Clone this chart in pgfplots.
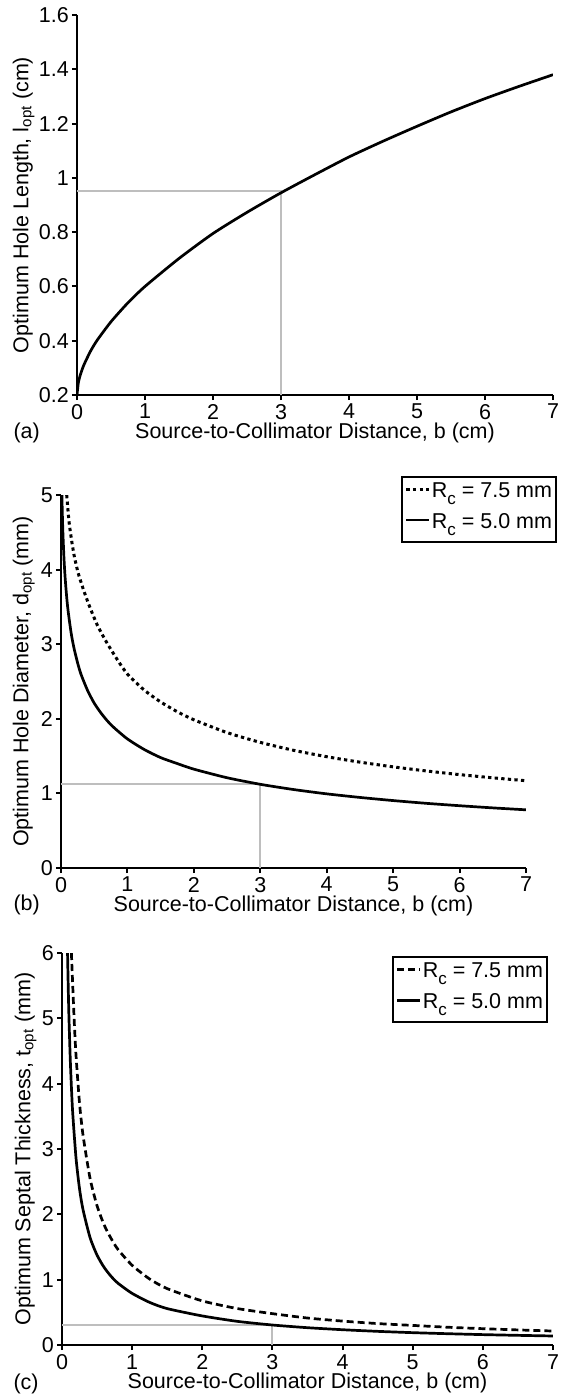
\documentclass[border=0pt]{standalone}
\usepackage{fontspec}
\setmainfont{Liberation Sans}
\usepackage{pgfplots}
\pgfplotsset{compat=1.18}
\definecolor{refgray}{RGB}{190,190,190}
\newcommand{\bigfont}{\fontsize{21.5}{25}\selectfont}
\newcommand{\Rc}{R\raisebox{-7pt}{\fontsize{17}{17}\selectfont c}}
\pgfplotsset{
  myaxis/.style={
    scale only axis,
    axis x line*=bottom, axis y line*=left,
    axis line style={line width=2.2pt,-},
    every tick/.style={line width=2pt,black},
    major tick length=5pt,
    tick align=outside,
    xmin=0, xmax=7, xtick={0,1,2,3,4,5,6,7},
    /pgf/number format/assume math mode=true,
    tick label style={font=\bigfont},
    label style={font=\bigfont},
    xticklabel style={inner sep=1pt, anchor=north, yshift=-3pt},
    yticklabel style={inner sep=1pt, anchor=east, xshift=-2pt},
    xlabel={Source-to-Collimator Distance, b (cm)},
    x label style={at={(axis description cs:0.5,0)}, anchor=center, yshift=-38pt},
    legend style={font=\bigfont, draw=black, line width=2.2pt, inner xsep=3pt, inner ysep=3pt,
      row sep=3pt, cells={anchor=west},
      nodes={inner xsep=1pt, inner ysep=1pt, text height=16pt, text depth=10pt}},
    legend image code/.code={\draw[#1] (0pt,5pt) -- (23pt,5pt);},
  },
  curve/.style={black, line width=2.7pt, smooth, tension=0.4},
  guide/.style={refgray, line width=2pt, forget plot},
}
\begin{document}
\begin{tikzpicture}
\path[use as bounding box] (0pt,0pt) rectangle (560pt,-1395pt);
% ---------- (a)
\begin{axis}[myaxis, at={(77pt,-15pt)}, anchor=north west, width=476pt, height=380pt,
  ymin=0.2, ymax=1.6, ytick={0.2,0.4,0.6,0.8,1,1.2,1.4,1.6},
  yticklabels={0.2,0.4,0.6,0.8,1,1.2,1.4,1.6},
  ylabel={Optimum Hole Length, l\textsubscript{opt} (cm)},
  y label style={at={(axis description cs:-0.112,0.5)}, anchor=center}]
\addplot[guide] coordinates {(0,0.95) (3,0.95) (3,0.2)};
\addplot[curve] coordinates {
(0,0.2) (0.02,0.245) (0.05,0.275) (0.1,0.31) (0.2,0.362) (0.3,0.403) (0.5,0.47)
(0.75,0.54) (1,0.6) (1.5,0.703) (2,0.795) (2.5,0.873) (3,0.945) (3.5,1.012)
(4,1.077) (4.5,1.135) (5,1.19) (5.5,1.243) (6,1.292) (6.5,1.337) (7,1.38)};
\end{axis}
\node[anchor=west, font=\bigfont] at (10pt,-433pt) {(a)};
% ---------- (b)
\begin{axis}[myaxis, at={(61pt,-495pt)}, anchor=north west, width=465pt, height=373pt,
  ymin=0, ymax=5, ytick={0,1,2,3,4,5},
  ylabel={Optimum Hole Diameter, d\textsubscript{opt} (mm)},
  y label style={at={(axis description cs:-0.080,0.5)}, anchor=center},
  legend style={at={(1.067,1.051)}, anchor=north east}]
\addplot[guide] coordinates {(0,1.13) (3,1.13) (3,0)};
\addplot[curve, line width=3pt, dash pattern=on 3.3pt off 3.3pt] coordinates {
(0.086,5.0) (0.12,4.65) (0.16,4.39) (0.2,4.18) (0.26,3.95) (0.35,3.7) (0.437,3.49)
(0.55,3.25) (0.69,3.02) (0.85,2.79) (1,2.6) (1.25,2.387) (1.5,2.226) (1.75,2.095)
(2,1.987) (2.5,1.815) (3,1.684) (3.5,1.578) (4,1.492) (4.5,1.419) (5,1.356)
(5.5,1.301) (6,1.252) (6.5,1.209) (7,1.17)};
\addlegendentry{\Rc{} = 7.5 mm}
\addplot[curve] coordinates {
(0.0136,5.0) (0.02,4.75) (0.03,4.46) (0.045,4.15) (0.06,3.92) (0.08,3.69) (0.1,3.50)
(0.13,3.29) (0.16,3.11) (0.2,2.93) (0.25,2.75) (0.3,2.60) (0.4,2.38) (0.5,2.21)
(0.6,2.08) (0.7,1.97) (0.8,1.88) (1,1.73) (1.25,1.59) (1.5,1.48) (1.75,1.40)
(2,1.325) (2.5,1.21) (3,1.122) (3.5,1.052) (4,0.994) (4.5,0.946) (5,0.904)
(5.5,0.867) (6,0.835) (6.5,0.806) (7,0.78)};
\addlegendentry{\Rc{} = 5.0 mm}
\end{axis}
\node[anchor=west, font=\bigfont] at (10pt,-905pt) {(b)};
% ---------- (c)
\begin{axis}[myaxis, at={(62pt,-953pt)}, anchor=north west, width=491pt, height=392pt,
  ymin=0, ymax=6, ytick={0,1,2,3,4,5,6},
  ylabel={Optimum Septal Thickness, t\textsubscript{opt} (mm)},
  y label style={at={(axis description cs:-0.074,0.5)}, anchor=center},
  legend style={at={(0.990,0.992)}, anchor=north east}]
\addplot[guide] coordinates {(0,0.31) (3,0.31) (3,0)};
\addplot[curve, dash pattern=on 7pt off 4pt] coordinates {
(0.134,6.0) (0.15,5.58) (0.175,4.94) (0.2,4.43) (0.25,3.70) (0.3,3.21) (0.4,2.55)
(0.5,2.13) (0.6,1.84) (0.7,1.63) (0.8,1.46) (1,1.22) (1.25,1.01) (1.5,0.863)
(2,0.675) (2.5,0.558) (3,0.48) (3.5,0.413) (4,0.366) (4.5,0.328) (5,0.30)
(5.5,0.272) (6,0.25) (6.5,0.231) (7,0.214)};
\addlegendentry{\Rc{} = 7.5 mm}
\addplot[curve] coordinates {
(0.079,6.0) (0.09,5.42) (0.1,4.98) (0.12,4.31) (0.15,3.60) (0.2,2.86) (0.25,2.39)
(0.3,2.07) (0.4,1.644) (0.5,1.375) (0.6,1.189) (0.7,1.051) (0.8,0.944) (1,0.79)
(1.25,0.652) (1.5,0.557) (2,0.445) (2.5,0.362) (3,0.306) (3.5,0.265) (4,0.234)
(4.5,0.209) (5,0.189) (5.5,0.173) (6,0.159) (6.5,0.148) (7,0.138)};
\addlegendentry{\Rc{} = 5.0 mm}
\end{axis}
\node[anchor=west, font=\bigfont] at (10pt,-1384pt) {(c)};
\end{tikzpicture}
\end{document}
